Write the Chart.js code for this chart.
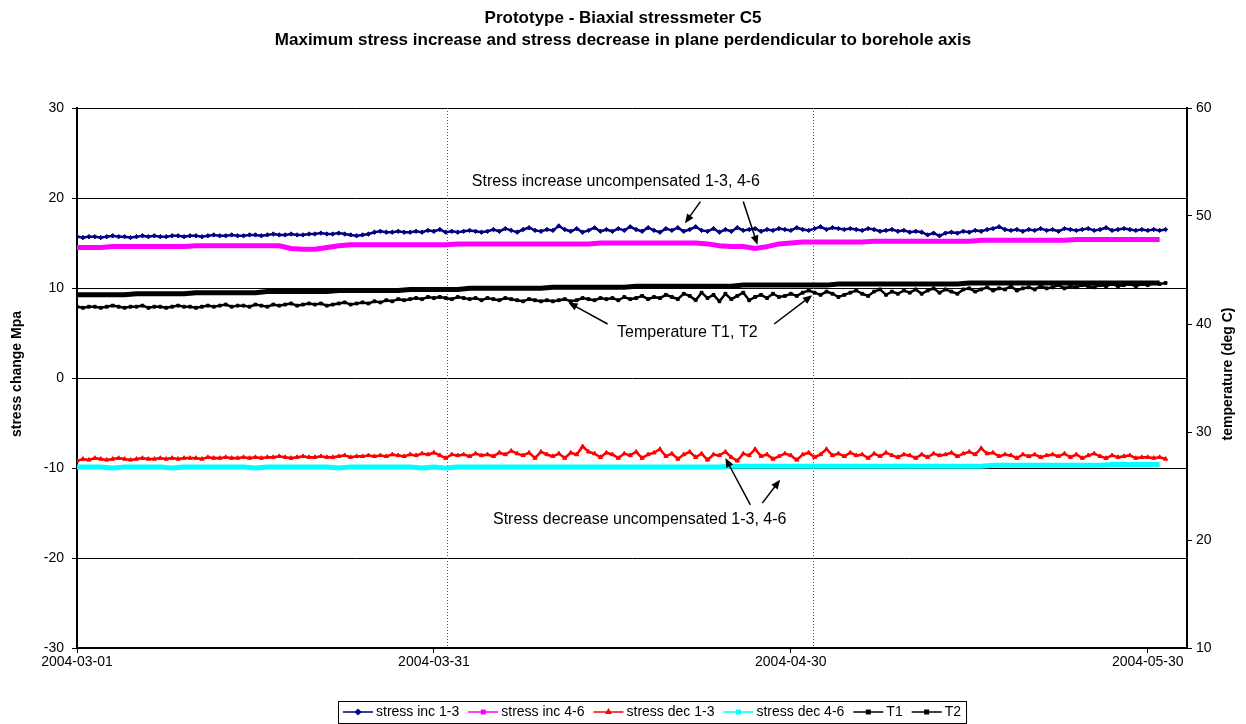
<!DOCTYPE html>
<html>
<head>
<meta charset="utf-8">
<script src="https://cdn.jsdelivr.net/npm/chart.js@4.4.0/dist/chart.umd.min.js"></script>
<style>
html, body { margin: 0; padding: 0; background: #fff; }
</style>
</head>
<body>
<canvas id="c" width="1246" height="724"></canvas>
<script>
const FONT = '"Liberation Sans", Arial, sans-serif';

const titleLines = ['Prototype - Biaxial stressmeter C5',
    'Maximum stress increase and stress decrease in plane perdendicular to borehole axis'];
const leftTitle = 'stress change Mpa';
const rightTitle = 'temperature (deg C)';

// x axis: days since 2004-03-01
const tickDays = [0, 30, 60, 90];
const tickLabels = ['2004-03-01', '2004-03-31', '2004-04-30', '2004-05-30'];
const xMax = 93.3;
const markerDays = [31.1, 61.85];   // dotted vertical lines

// half-day readings
const incHalf13 = [
    15.7,15.6,15.7,15.7,15.6,15.7,15.8,15.7,15.7,15.6,
    15.7,15.8,15.7,15.8,15.7,15.7,15.8,15.8,15.7,15.8,
    15.8,15.7,15.8,15.9,15.8,15.8,15.9,15.8,15.8,15.9,
    15.9,15.8,15.9,16.0,15.9,15.9,16.0,15.9,15.9,16.0,
    16.0,16.1,16.0,16.0,16.1,16.0,15.9,15.8,15.9,16.0,
    16.2,16.3,16.2,16.2,16.3,16.2,16.2,16.3,16.2,16.4,
    16.3,16.5,16.2,16.3,16.2,16.3,16.4,16.3,16.2,16.3,
    16.5,16.3,16.6,16.4,16.2,16.5,16.7,16.4,16.3,16.5,
    16.4,16.9,16.5,16.3,16.6,16.2,16.4,16.7,16.3,16.5,
    16.3,16.6,16.4,16.8,16.5,16.3,16.7,16.4,16.2,16.6,
    16.4,16.7,16.3,16.5,16.8,16.4,16.3,16.6,16.2,16.5,
    16.3,16.7,16.4,16.5,16.6,16.3,16.5,16.4,16.6,16.5,
    16.4,16.7,16.5,16.4,16.6,16.8,16.5,16.7,16.6,16.5,
    16.6,16.5,16.4,16.6,16.5,16.3,16.4,16.5,16.3,16.4,
    16.2,16.3,16.2,15.9,16.1,15.8,16.1,16.2,16.1,16.3,
    16.2,16.4,16.3,16.5,16.6,16.8,16.5,16.4,16.5,16.3,
    16.5,16.4,16.6,16.4,16.5,16.3,16.6,16.5,16.4,16.5,
    16.6,16.4,16.5,16.7,16.4,16.5,16.6,16.5,16.4,16.5,
    16.4,16.5,16.4,16.5
];
const decHalf13 = [
    -9.2,-9.0,-9.1,-8.9,-9.0,-9.1,-9.0,-8.9,-9.0,-9.1,
    -9.0,-8.9,-9.0,-9.0,-8.9,-9.0,-8.9,-9.0,-8.9,-8.9,
    -8.9,-9.0,-8.8,-8.9,-8.9,-8.8,-8.9,-8.9,-8.8,-8.9,
    -8.8,-8.9,-8.8,-8.8,-8.7,-8.8,-8.9,-8.8,-8.7,-8.8,
    -8.8,-8.7,-8.8,-8.8,-8.7,-8.6,-8.8,-8.7,-8.7,-8.6,
    -8.7,-8.6,-8.7,-8.5,-8.6,-8.7,-8.5,-8.6,-8.4,-8.5,
    -8.3,-8.6,-8.9,-8.5,-8.6,-8.5,-8.7,-8.4,-8.6,-8.5,
    -8.7,-8.3,-8.5,-8.1,-8.4,-8.6,-8.3,-8.9,-8.2,-8.5,
    -8.7,-8.4,-8.9,-8.3,-8.5,-7.6,-8.2,-8.4,-8.8,-8.3,
    -8.5,-8.9,-8.4,-8.6,-8.2,-8.9,-8.5,-8.3,-7.9,-8.7,
    -8.4,-9.0,-8.5,-8.2,-8.8,-8.4,-9.1,-8.5,-8.6,-8.2,
    -8.8,-9.2,-8.4,-8.6,-7.9,-8.7,-8.5,-9.0,-8.7,-8.4,
    -8.6,-9.1,-8.5,-8.3,-8.8,-8.5,-7.9,-8.6,-8.4,-8.7,
    -8.3,-8.6,-8.5,-8.9,-8.4,-8.7,-8.3,-8.6,-8.8,-8.5,
    -8.6,-8.9,-8.5,-8.8,-8.4,-8.6,-8.5,-8.3,-8.7,-8.4,
    -8.2,-8.5,-7.8,-8.4,-8.3,-8.7,-8.5,-8.6,-8.9,-8.5,
    -8.7,-8.5,-8.8,-8.6,-8.5,-8.7,-8.4,-8.8,-8.5,-8.9,
    -8.6,-8.4,-8.7,-8.9,-8.6,-8.8,-8.7,-8.6,-8.9,-8.8,
    -8.8,-8.9,-8.8,-9.0
];
const t2Half = [
    41.6,41.5,41.6,41.6,41.5,41.6,41.7,41.6,41.5,41.6,
    41.6,41.7,41.5,41.6,41.6,41.5,41.6,41.7,41.6,41.6,
    41.5,41.6,41.7,41.6,41.7,41.8,41.6,41.7,41.7,41.6,
    41.8,41.7,41.6,41.8,41.7,41.8,41.9,41.7,41.8,41.9,
    41.8,41.9,41.7,41.8,41.9,42.0,41.8,41.9,42.0,41.9,
    42.1,42.0,42.2,42.1,42.3,42.2,42.3,42.4,42.3,42.5,
    42.4,42.5,42.4,42.3,42.5,42.4,42.3,42.4,42.2,42.4,
    42.3,42.2,42.4,42.3,42.2,42.1,42.3,42.2,42.1,42.2,
    42.1,42.2,42.3,42.1,42.2,42.4,42.3,42.2,42.4,42.3,
    42.4,42.2,42.5,42.3,42.4,42.6,42.3,42.5,42.4,42.7,
    42.5,42.3,42.8,42.6,42.2,42.9,42.4,42.7,42.1,42.8,
    42.3,42.6,42.9,42.2,42.5,42.7,42.4,42.8,42.5,42.6,
    42.8,42.6,42.9,43.1,42.9,42.7,43.0,42.8,42.5,42.7,
    42.9,43.1,42.8,42.6,43.0,43.2,42.7,43.0,42.8,43.1,
    42.9,43.2,42.8,43.1,43.3,42.9,43.2,43.0,42.8,43.2,
    43.3,43.0,43.2,43.4,43.1,43.3,43.2,43.5,43.1,43.3,
    43.4,43.2,43.5,43.3,43.4,43.6,43.3,43.5,43.4,43.6,
    43.5,43.4,43.6,43.5,43.7,43.5,43.6,43.7,43.5,43.7,
    43.6,43.8,43.7,43.8
];

// daily readings
const incDay46 = [
    14.5,14.5,14.5,14.6,14.6,14.6,14.6,14.6,14.6,14.6,
    14.7,14.7,14.7,14.7,14.7,14.7,14.7,14.7,14.4,14.3,
    14.3,14.5,14.7,14.8,14.8,14.8,14.8,14.8,14.8,14.8,
    14.8,14.8,14.9,14.9,14.9,14.9,14.9,14.9,14.9,14.9,
    14.9,14.9,14.9,14.9,15.0,15.0,15.0,15.0,15.0,15.0,
    15.0,15.0,15.0,14.9,14.7,14.6,14.6,14.4,14.6,14.9,
    15.0,15.1,15.1,15.1,15.1,15.1,15.1,15.2,15.2,15.2,
    15.2,15.2,15.2,15.2,15.2,15.2,15.3,15.3,15.3,15.3,
    15.3,15.3,15.3,15.3,15.4,15.4,15.4,15.4,15.4,15.4,
    15.4,15.4
];
const decDay46 = [
    -9.9,-9.9,-9.9,-10.0,-9.9,-9.9,-9.9,-9.9,-10.0,-9.9,
    -9.9,-9.9,-9.9,-9.9,-9.9,-10.0,-9.9,-9.9,-9.9,-9.9,
    -9.9,-9.9,-10.0,-9.9,-9.9,-9.9,-9.9,-9.9,-9.9,-10.0,
    -9.9,-10.0,-9.9,-9.9,-9.9,-9.9,-9.9,-9.9,-9.9,-9.9,
    -9.9,-9.9,-9.9,-9.9,-9.9,-9.9,-9.9,-9.9,-9.9,-9.9,
    -9.9,-9.9,-9.9,-9.9,-9.9,-9.8,-9.8,-9.8,-9.8,-9.8,
    -9.8,-9.8,-9.8,-9.8,-9.8,-9.8,-9.8,-9.8,-9.8,-9.8,
    -9.8,-9.8,-9.8,-9.8,-9.8,-9.8,-9.8,-9.7,-9.7,-9.7,
    -9.7,-9.7,-9.7,-9.7,-9.7,-9.7,-9.7,-9.6,-9.6,-9.6,
    -9.6,-9.6
];
const t1Day = [
    42.7,42.7,42.7,42.7,42.7,42.8,42.8,42.8,42.8,42.8,
    42.9,42.9,42.9,42.9,42.9,42.9,43.0,43.0,43.0,43.0,
    43.0,43.0,43.1,43.1,43.1,43.1,43.1,43.1,43.2,43.2,
    43.2,43.2,43.2,43.3,43.3,43.3,43.3,43.3,43.3,43.3,
    43.4,43.4,43.4,43.4,43.4,43.4,43.4,43.5,43.5,43.5,
    43.5,43.5,43.5,43.5,43.5,43.5,43.6,43.6,43.6,43.6,
    43.6,43.6,43.6,43.6,43.7,43.7,43.7,43.7,43.7,43.7,
    43.7,43.7,43.7,43.7,43.7,43.8,43.8,43.8,43.8,43.8,
    43.8,43.8,43.8,43.8,43.8,43.8,43.8,43.8,43.8,43.8,
    43.8,43.8
];

// text notes with arrows, in (day, stress) units of the left axis
const notes = [
    { text: 'Stress increase uncompensated 1-3, 4-6', at: [45.3, 21.8],
      arrows: [[52.4, 19.6, 51.1, 17.2], [56.0, 19.6, 57.2, 14.8]] },
    { text: 'Temperature T1, T2', at: [51.3, 5.1],
      arrows: [[44.6, 6.0, 41.3, 8.4], [58.6, 6.0, 61.8, 9.2]] },
    { text: 'Stress decrease uncompensated 1-3, 4-6', at: [47.3, -15.7],
      arrows: [[56.6, -14.1, 54.5, -8.9], [57.6, -13.9, 59.1, -11.3]] }
];

function pts(vals, step) {
    return vals.map((v, i) => ({ x: i * step, y: v }));
}

const series = [
    { label: 'stress inc 1-3', data: pts(incHalf13, 0.5), color: '#000080', width: 2.5, style: 'rectRot', r: 2.2, axis: 'y' },
    { label: 'stress inc 4-6', data: pts(incDay46, 1), color: '#FF00FF', width: 5, style: 'rect', r: 0, axis: 'y' },
    { label: 'stress dec 1-3', data: pts(decHalf13, 0.5), color: '#FF0000', width: 2.5, style: 'triangle', r: 2.4, axis: 'y' },
    { label: 'stress dec 4-6', data: pts(decDay46, 1), color: '#00FFFF', width: 5, style: 'rect', r: 0, axis: 'y' },
    { label: 'T1', data: pts(t1Day, 1), color: '#000000', width: 5, style: 'rect', r: 0, axis: 'y2' },
    { label: 'T2', data: pts(t2Half, 0.5), color: '#000000', width: 2.5, style: 'rect', r: 2, axis: 'y2' }
];

function arrow(ctx, x1, y1, x2, y2) {
    const a = Math.atan2(y2 - y1, x2 - x1);
    const len = 10;
    ctx.beginPath();
    ctx.moveTo(x1, y1);
    ctx.lineTo(x2 - Math.cos(a) * 5, y2 - Math.sin(a) * 5);
    ctx.stroke();
    ctx.beginPath();
    ctx.moveTo(x2, y2);
    ctx.lineTo(x2 - len * Math.cos(a - 0.4), y2 - len * Math.sin(a - 0.4));
    ctx.lineTo(x2 - len * Math.cos(a + 0.4), y2 - len * Math.sin(a + 0.4));
    ctx.closePath();
    ctx.fill();
}

const extras = {
    id: 'extras',
    beforeDatasetsDraw(chart) {
        const { ctx, chartArea, scales } = chart;
        ctx.save();
        ctx.strokeStyle = '#555';
        ctx.lineWidth = 1;
        ctx.setLineDash([1, 2]);
        markerDays.forEach(d => {
            const x = Math.round(scales.x.getPixelForValue(d)) + 0.5;
            ctx.beginPath();
            ctx.moveTo(x, chartArea.top);
            ctx.lineTo(x, chartArea.bottom);
            ctx.stroke();
        });
        ctx.restore();
    },
    afterDraw(chart) {
        const { ctx, chartArea, scales } = chart;
        ctx.save();
        // title
        ctx.fillStyle = '#000';
        ctx.textAlign = 'center';
        ctx.textBaseline = 'middle';
        ctx.font = 'bold 17px ' + FONT;
        ctx.fillText(titleLines[0], chart.width / 2, 18);
        ctx.fillText(titleLines[1], chart.width / 2, 40);

        // axis titles
        ctx.font = 'bold 14px ' + FONT;
        const midY = (chartArea.top + chartArea.bottom) / 2 - 4;
        [[17, leftTitle], [1228, rightTitle]].forEach(([x, t]) => {
            ctx.save();
            ctx.translate(x, midY);
            ctx.rotate(-Math.PI / 2);
            ctx.fillText(t, 0, 0);
            ctx.restore();
        });

        // notes
        ctx.font = '16px ' + FONT;
        ctx.lineWidth = 1.5;
        ctx.strokeStyle = '#000';
        notes.forEach(n => {
            ctx.fillText(n.text, scales.x.getPixelForValue(n.at[0]), scales.y.getPixelForValue(n.at[1]));
            n.arrows.forEach(a => arrow(ctx,
                scales.x.getPixelForValue(a[0]), scales.y.getPixelForValue(a[1]),
                scales.x.getPixelForValue(a[2]), scales.y.getPixelForValue(a[3])));
        });

        // legend
        ctx.font = '14px ' + FONT;
        ctx.textAlign = 'left';
        const lineLen = 30, gap = 3, itemGap = 9, padX = 5;
        const widths = series.map(s => lineLen + gap + ctx.measureText(s.label).width);
        const total = widths.reduce((a, b) => a + b, 0) + itemGap * (series.length - 1) + padX * 2;
        const x0 = Math.round(652 - total / 2);
        const ly = 712;
        ctx.lineWidth = 1;
        ctx.strokeRect(x0 + 0.5, 701.5, total, 22);
        let x = x0 + padX;
        series.forEach((s, i) => {
            ctx.strokeStyle = s.color;
            ctx.fillStyle = s.color;
            ctx.lineWidth = 1.5;
            ctx.beginPath();
            ctx.moveTo(x, ly);
            ctx.lineTo(x + lineLen, ly);
            ctx.stroke();
            Chart.helpers.drawPoint(ctx, { pointStyle: s.style, radius: 2.5, rotation: 0, borderWidth: 1 }, x + lineLen / 2, ly);
            ctx.fillStyle = '#000';
            ctx.fillText(s.label, x + lineLen + gap, ly);
            x += widths[i] + itemGap;
        });
        ctx.restore();
    }
};

new Chart(document.getElementById('c'), {
    type: 'line',
    data: {
        datasets: series.map(s => ({
            label: s.label,
            data: s.data,
            yAxisID: s.axis,
            borderColor: s.color,
            backgroundColor: s.color,
            borderWidth: s.width,
            pointStyle: s.style,
            pointRadius: s.r,
            pointBorderWidth: 1,
            tension: 0,
            fill: false
        }))
    },
    options: {
        responsive: false,
        animation: false,
        devicePixelRatio: 1,
        events: [],
        layout: { padding: { top: 108, left: 0, right: 0, bottom: 0 } },
        plugins: { legend: { display: false }, tooltip: { enabled: false }, title: { display: false } },
        scales: {
            x: {
                type: 'linear',
                min: 0,
                max: xMax,
                afterFit: s => { s.height = 76; },
                afterBuildTicks: s => { s.ticks = tickDays.map(v => ({ value: v })); },
                ticks: {
                    callback: v => tickLabels[tickDays.indexOf(v)],
                    color: '#000',
                    font: { family: FONT, size: 14 },
                    maxRotation: 0,
                    autoSkip: false,
                    padding: 1
                },
                grid: { drawOnChartArea: false, color: '#000', tickLength: 5 },
                border: { color: '#000', width: 2 }
            },
            y: {
                position: 'left',
                min: -30,
                max: 30,
                afterFit: s => { s.width = 77; },
                ticks: { stepSize: 10, color: '#000', font: { family: FONT, size: 14 }, padding: 8 },
                grid: { color: '#000', lineWidth: 1, tickLength: 5 },
                border: { color: '#000', width: 2 }
            },
            y2: {
                position: 'right',
                min: 10,
                max: 60,
                afterFit: s => { s.width = 59; },
                ticks: { stepSize: 10, color: '#000', font: { family: FONT, size: 14 }, padding: 4 },
                grid: { drawOnChartArea: false, color: '#000', tickLength: 5 },
                border: { color: '#000', width: 2 }
            }
        }
    },
    plugins: [extras]
});
</script>
</body>
</html>
